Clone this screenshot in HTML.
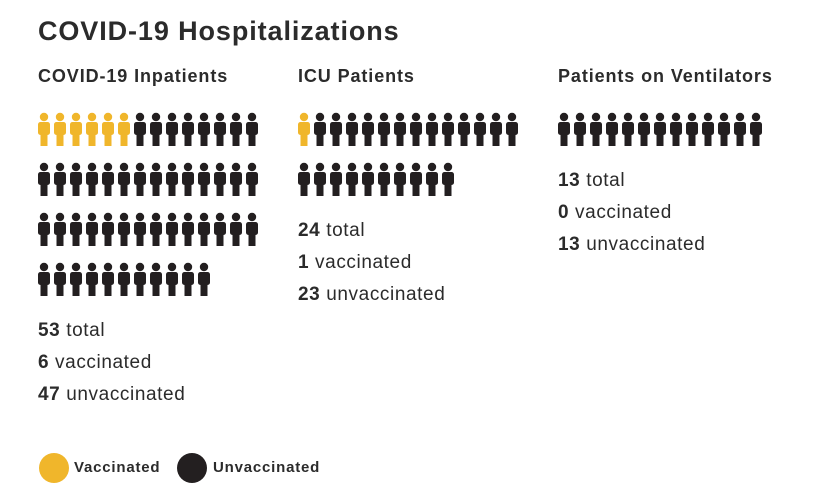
<!DOCTYPE html>
<html><head><meta charset="utf-8"><style>
body{margin:0;width:832px;height:490px;background:#fff;font-family:"Liberation Sans",sans-serif;color:#2b2b2b;position:relative;overflow:hidden}
.abs{position:absolute;white-space:nowrap}
h1{position:absolute;left:38px;top:16px;margin:0;font-size:27px;font-weight:bold;color:#2b2b2b;letter-spacing:0.9px}
.hd{font-size:18px;font-weight:bold;top:66px;letter-spacing:0.9px}
.st{font-size:19px;letter-spacing:0.6px}
.st b{font-weight:bold}
.leg{font-size:15px;font-weight:bold;letter-spacing:0.8px}
</style></head><body>
<h1>COVID-19 Hospitalizations</h1>
<div class="abs hd" style="left:38px">COVID-19 Inpatients</div>
<div class="abs hd" style="left:298px">ICU Patients</div>
<div class="abs hd" style="left:558px">Patients on Ventilators</div>
<svg id="icons" class="abs" style="left:0;top:0" width="832" height="490"></svg>
<div id="stats"></div>
<svg class="abs" style="left:38px;top:452px" width="34" height="32"><circle cx="16" cy="16" r="15" fill="#F0B62B"/></svg>
<div class="abs leg" style="left:74px;top:459px">Vaccinated</div>
<svg class="abs" style="left:176px;top:452px" width="34" height="32"><circle cx="16" cy="16" r="15" fill="#231F20"/></svg>
<div class="abs leg" style="left:213px;top:459px">Unvaccinated</div>
<script>
const groups=["inpatients","icu","ventilators"];
const vaccinated=[6,1,0];
const unvaccinated=[47,23,13];
const colX=[38,298,558];
const perRow=14,pitchX=16,pitchY=50,top0=113;
const svg=document.getElementById('icons');
const NS="http://www.w3.org/2000/svg";
const stats=document.getElementById('stats');
groups.forEach((g,gi)=>{
  const total=vaccinated[gi]+unvaccinated[gi];
  for(let i=0;i<total;i++){
    const x=colX[gi]+(i%perRow)*pitchX, y=top0+Math.floor(i/perRow)*pitchY;
    const c=i<vaccinated[gi]?"#F0B62B":"#231F20";
    const el=document.createElementNS(NS,'g');
    
    
    el.innerHTML=`<circle cx="${x+6}" cy="${y+4}" r="4.2" fill="${c}"/><rect x="${x}" y="${y+9}" width="12" height="13" rx="2.5" fill="${c}"/><rect x="${x+2.5}" y="${y+18}" width="7" height="15" fill="${c}"/>`;
    svg.appendChild(el);
  }
  const rows=Math.ceil(total/perRow);
  const sy=top0+(rows-1)*pitchY+57;
  const lines=[[total,"total"],[vaccinated[gi],"vaccinated"],[unvaccinated[gi],"unvaccinated"]];
  lines.forEach((l,li)=>{
    const d=document.createElement('div');
    d.className='abs st';
    d.style.left=colX[gi]+'px';
    d.style.top=(sy+li*32)+'px';
    d.innerHTML='<b>'+l[0]+'</b> '+l[1];
    
    
    stats.appendChild(d);
  });
});
</script>
</body></html>
